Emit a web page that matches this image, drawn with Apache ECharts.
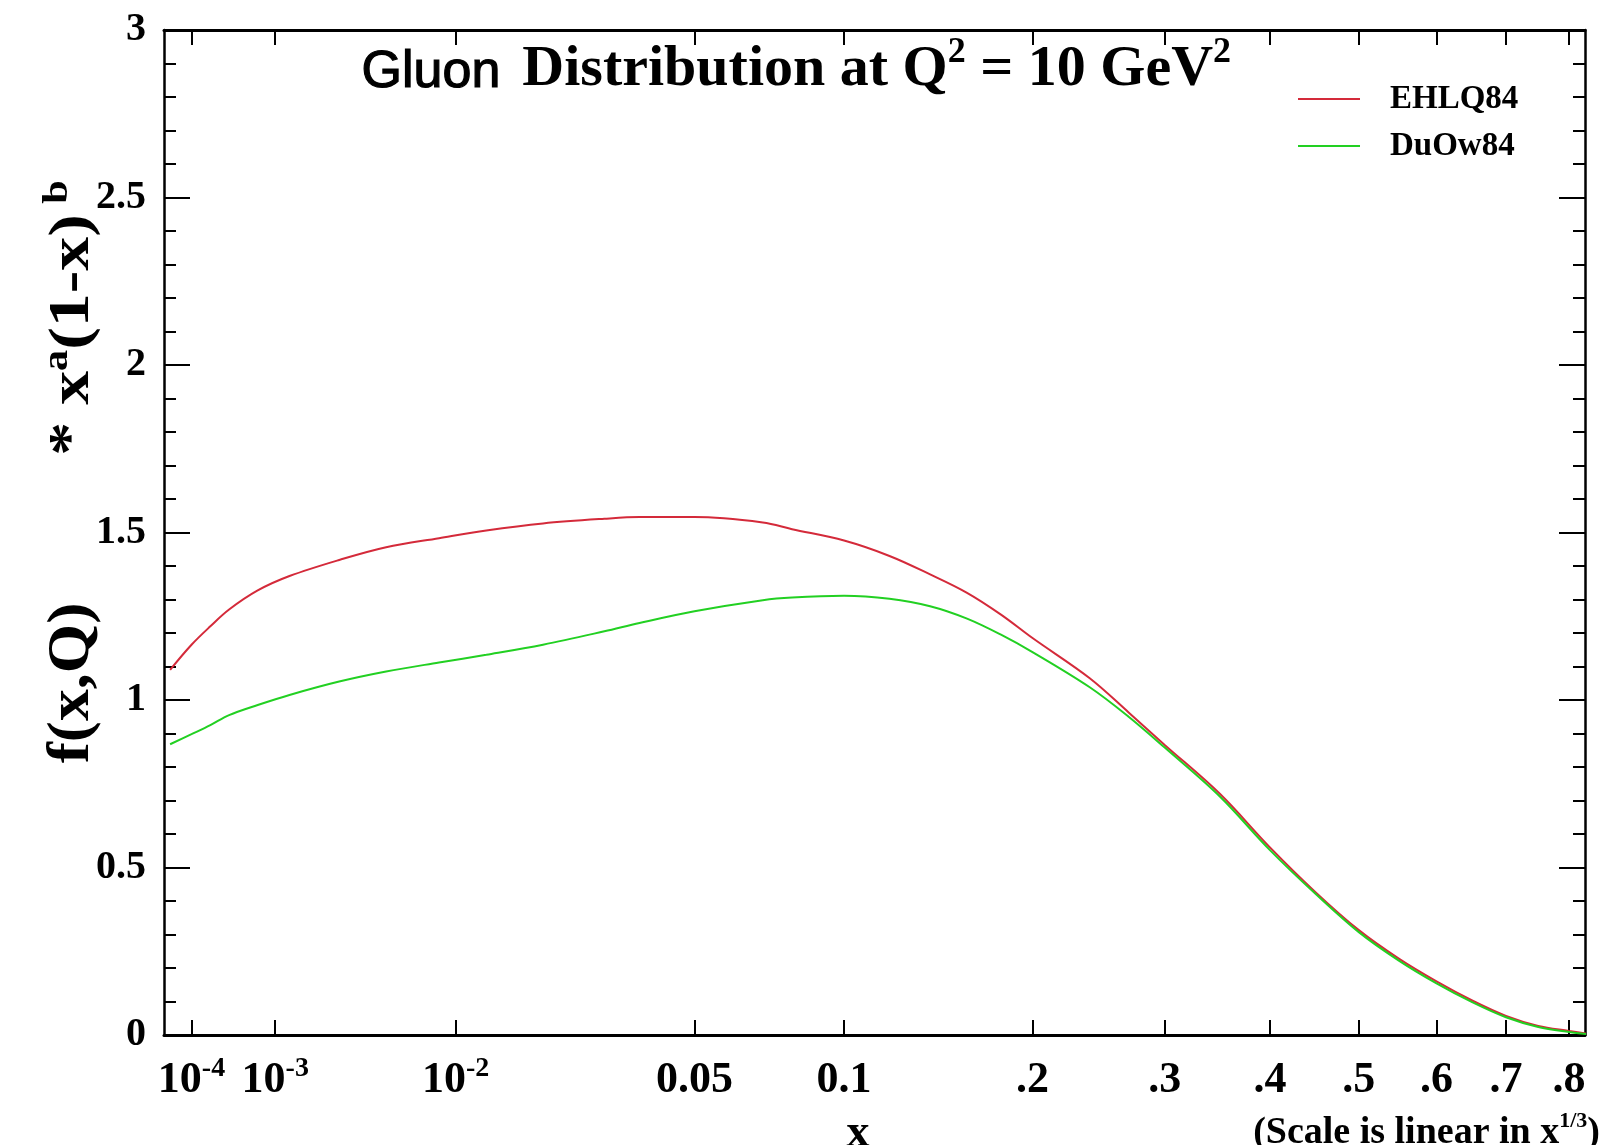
<!DOCTYPE html>
<html>
<head>
<meta charset="utf-8">
<script src="https://cdn.jsdelivr.net/npm/echarts@6/dist/echarts.min.js"></script>
<style>
html,body{margin:0;padding:0;background:#fff;}
#chart{width:1605px;height:1145px;}
</style>
</head>
<body>
<div id="chart"></div>
<script>
// ---- data (x is momentum fraction; the axis is linear in x^(1/3)) ----
const xValues = [3.5e-5, 1e-4, 2e-4, 3.5e-4, 7e-4, 1.3e-3, 2.8e-3, 5e-3, 8.6e-3, 0.013, 0.02, 0.03, 0.037,
  0.05, 0.07, 0.08, 0.1, 0.12, 0.14, 0.16, 0.18, 0.2, 0.24, 0.27, 0.3, 0.35, 0.4, 0.45, 0.5, 0.55, 0.6, 0.65, 0.7, 0.75, 0.8, 0.83];
const ehlq84 = [1.09, 1.165, 1.22, 1.27, 1.327, 1.37, 1.418, 1.456, 1.483, 1.506, 1.527, 1.541, 1.546,
  1.546, 1.53, 1.51, 1.476, 1.43, 1.375, 1.32, 1.255, 1.185, 1.065, 0.963, 0.866, 0.72, 0.56, 0.425, 0.313, 0.228, 0.16, 0.103, 0.057, 0.027, 0.012, 0.004];
const duow84 = [0.868, 0.898, 0.925, 0.955, 0.985, 1.015, 1.055, 1.085, 1.112, 1.135, 1.165, 1.205, 1.23,
  1.265, 1.298, 1.306, 1.311, 1.302, 1.28, 1.243, 1.195, 1.143, 1.038, 0.95, 0.858, 0.712, 0.552, 0.42, 0.307, 0.222, 0.154, 0.098, 0.053, 0.024, 0.009, 0.003];
const seriesNames = ['EHLQ84', 'DuOw84'];
const xTickValues = [1e-4, 1e-3, 1e-2, 0.05, 0.1, 0.2, 0.3, 0.4, 0.5, 0.6, 0.7, 0.8];
const xTickLabels = ['10^-4', '10^-3', '10^-2', '0.05', '0.1', '.2', '.3', '.4', '.5', '.6', '.7', '.8'];
const yTickLabels = ['0', '0.5', '1', '1.5', '2', '2.5', '3'];

const cbrt = v => Math.cbrt(v);
const tTicks = xTickValues.map(cbrt);
const SERIF = '"Liberation Serif", "DejaVu Serif", serif';
const SANS = '"Liberation Sans", Arial, sans-serif';

function xLabel(val) {
  let best = 0, bd = Infinity;
  tTicks.forEach((t, i) => { const d = Math.abs(t - val); if (d < bd) { bd = d; best = i; } });
  const s = xTickLabels[best];
  if (s.indexOf('^') >= 0) {
    const p = s.split('^');
    return '{b|' + p[0] + '}{s|' + p[1] + '}';
  }
  return '{b|' + s + '}';
}
function yLabel(val) {
  const i = Math.round(val / 0.5);
  return yTickLabels[i] !== undefined ? yTickLabels[i] : '';
}

const chart = echarts.init(document.getElementById('chart'), null, {renderer: 'canvas'});
const axisLineStyleX = {color: '#000', width: 3};
const axisLineStyleY = {color: '#000', width: 2.5};
const T_MIN = 0.0288, T_MAX = 0.9385;

const option = {
  animation: false,
  backgroundColor: '#fff',
  grid: {left: 164, top: 30, width: 1421, height: 1005, containLabel: false},
  legend: {
    left: 1293, top: 74, orient: 'vertical', padding: 5,
    icon: 'rect', itemWidth: 62, itemHeight: 2, itemGap: 7,
    data: seriesNames,
    textStyle: {fontFamily: SERIF, fontWeight: 'bold', fontSize: 33, color: '#000', lineHeight: 40, padding: [0, 0, 0, 25]}
  },
  xAxis: [{
    type: 'value', position: 'bottom', min: T_MIN, max: T_MAX,
    splitLine: {show: false},
    axisLine: {show: true, onZero: false, lineStyle: axisLineStyleX},
    axisTick: {show: true, inside: true, length: 15, customValues: tTicks, lineStyle: {color: '#000', width: 2}},
    axisLabel: {
      show: true, margin: 20, customValues: tTicks, formatter: xLabel,
      rich: {
        b: {fontFamily: SERIF, fontWeight: 'bold', fontSize: 44, color: '#000', lineHeight: 48, verticalAlign: 'bottom'},
        s: {fontFamily: SERIF, fontWeight: 'bold', fontSize: 28, color: '#000', lineHeight: 18, verticalAlign: 'top'}
      }
    }
  }, {
    type: 'value', position: 'top', min: T_MIN, max: T_MAX,
    splitLine: {show: false},
    axisLine: {show: true, onZero: false, lineStyle: axisLineStyleX},
    axisTick: {show: true, inside: true, length: 15, customValues: tTicks, lineStyle: {color: '#000', width: 2}},
    axisLabel: {show: false}
  }],
  yAxis: [{
    type: 'value', position: 'left', min: 0, max: 3, interval: 0.5,
    splitLine: {show: false},
    axisLine: {show: true, onZero: false, lineStyle: axisLineStyleY},
    axisTick: {show: true, inside: true, length: 26, lineStyle: {color: '#000', width: 2}},
    minorTick: {show: true, splitNumber: 5, length: 12, lineStyle: {color: '#000', width: 2}},
    minorSplitLine: {show: false},
    axisLabel: {show: true, margin: 18, formatter: yLabel, fontFamily: SERIF, fontWeight: 'bold', fontSize: 40, color: '#000'}
  }, {
    type: 'value', position: 'right', min: 0, max: 3, interval: 0.5,
    splitLine: {show: false},
    axisLine: {show: true, onZero: false, lineStyle: axisLineStyleY},
    axisTick: {show: true, inside: true, length: 26, lineStyle: {color: '#000', width: 2}},
    minorTick: {show: true, splitNumber: 5, length: 12, lineStyle: {color: '#000', width: 2}},
    minorSplitLine: {show: false},
    axisLabel: {show: false}
  }],
  series: [{
    name: seriesNames[0], type: 'line', symbol: 'none', smooth: 0.35,
    xAxisIndex: 0, yAxisIndex: 0,
    lineStyle: {color: '#d42a3a', width: 2},
    itemStyle: {color: '#d42a3a'},
    data: xValues.map((x, i) => [cbrt(x), ehlq84[i]]),
    z: 3
  }, {
    name: seriesNames[1], type: 'line', symbol: 'none', smooth: 0.35,
    xAxisIndex: 0, yAxisIndex: 0,
    lineStyle: {color: '#22d022', width: 2},
    itemStyle: {color: '#22d022'},
    data: xValues.map((x, i) => [cbrt(x), duow84[i]]),
    z: 4
  }],
  graphic: [{
    type: 'text', left: 361, top: 35,
    style: {
      text: '{g|Gluon}{t|Distribution at Q}{u|2}{t| = 10 GeV}{u|2}',
      rich: {
        g: {fontFamily: SANS, fontSize: 52, fontWeight: 'normal', fill: '#000', stroke: '#000', lineWidth: 1.2, lineHeight: 64, verticalAlign: 'bottom', padding: [0, 22, 0, 0]},
        t: {fontFamily: SERIF, fontSize: 58, fontWeight: 'bold', fill: '#000', lineHeight: 64, verticalAlign: 'bottom'},
        u: {fontFamily: SERIF, fontSize: 36, fontWeight: 'bold', fill: '#000', lineHeight: 40, verticalAlign: 'top'}
      }
    }
  }, {
    type: 'text', x: 72, y: 683, rotation: Math.PI / 2, scaleX: 1.06,
    style: {text: 'f(x,Q)', fontFamily: SERIF, fontWeight: 'bold', fontSize: 60, fill: '#000', align: 'center', verticalAlign: 'middle'}
  }, {
    type: 'text', x: 71, y: 318, rotation: Math.PI / 2, scaleX: 1.17,
    style: {
      text: '{m|* x}{s|a}{m|(1-x)}{s| b}',
      align: 'center', verticalAlign: 'middle',
      rich: {
        m: {fontFamily: SERIF, fontWeight: 'bold', fontSize: 58, fill: '#000', lineHeight: 62, verticalAlign: 'bottom'},
        s: {fontFamily: SERIF, fontWeight: 'bold', fontSize: 36, fill: '#000', lineHeight: 30, verticalAlign: 'top'}
      }
    }
  }, {
    type: 'text', x: 858, y: 1134,
    style: {text: 'x', fontFamily: SERIF, fontWeight: 'bold', fontSize: 46, fill: '#000', align: 'center', verticalAlign: 'middle'}
  }, {
    type: 'text', x: 1600, y: 1131,
    style: {
      text: '{m|(Scale is linear in x}{s|1/3}{m|)}',
      align: 'right', verticalAlign: 'middle',
      rich: {
        m: {fontFamily: SERIF, fontWeight: 'bold', fontSize: 38, fill: '#000', lineHeight: 42, verticalAlign: 'bottom'},
        s: {fontFamily: SERIF, fontWeight: 'bold', fontSize: 22, fill: '#000', lineHeight: 16, verticalAlign: 'top'}
      }
    }
  }]
};
chart.setOption(option);
</script>
</body>
</html>
